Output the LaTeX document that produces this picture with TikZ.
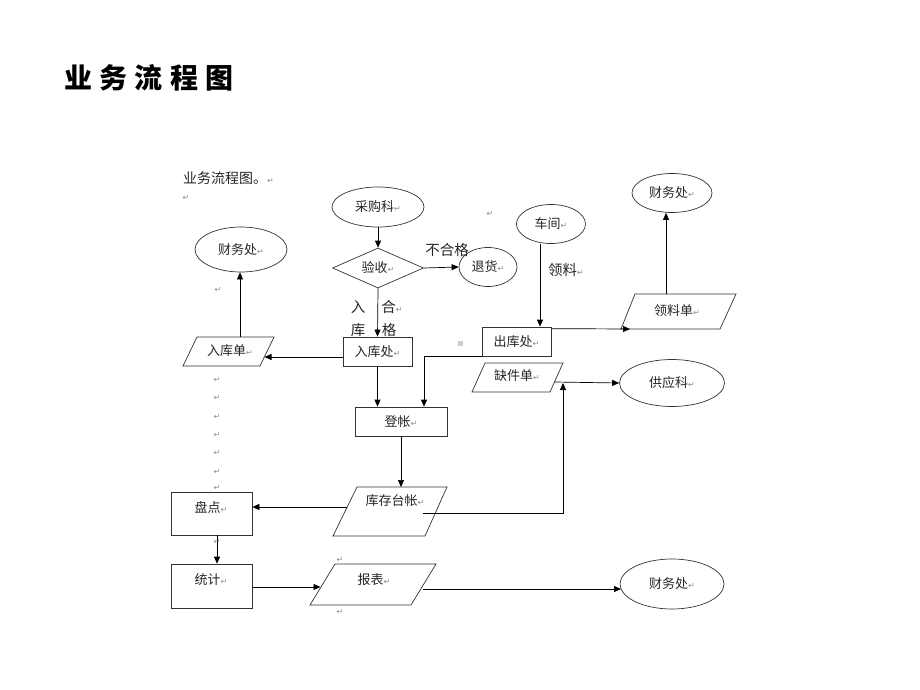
\documentclass[tikz,border=0pt]{standalone}
\usepackage{fontspec}
\setmainfont{Noto Sans CJK SC}
\newfontfamily\dejavu{DejaVu Sans}
\newfontfamily\titlecjk[LetterSpace=26]{Noto Sans CJK SC}
\usetikzlibrary{shapes.geometric,arrows.meta}
\newcommand{\retmark}{{\color{black!45}\dejavu\fontsize{8}{8}\selectfont ↵}}
\begin{document}
\begin{tikzpicture}[x=1pt,y=-1pt,
  base/.style={draw=black!80, line width=0.7pt, inner sep=0pt, text=black!85, font=\fontsize{13}{13}\selectfont},
  ell/.style={base, ellipse},
  rectbox/.style={base, rectangle},
  dia/.style={base, diamond, aspect=2.3},
  para/.style={draw=black!80, line width=0.7pt, line join=miter},
  ptext/.style={inner sep=0pt, text=black!85, font=\fontsize{13}{13}\selectfont},
  lbl/.style={inner sep=0pt, text=black!85, font=\fontsize{14.5}{14.5}\selectfont},
  rm/.style={inner sep=0pt, text=black!45, font=\dejavu\fontsize{8}{8}\selectfont},
  arr/.style={-{Triangle[length=7pt,width=6pt]}, line width=0.7pt, black},
  ln/.style={line width=0.7pt, black}
]
\useasboundingbox (0,0) rectangle (920,690);
\fill[white] (0,0) rectangle (920,690);

% titles
\node[anchor=west, inner sep=0pt, font=\titlecjk\bfseries\fontsize{28}{28}\selectfont] (title) at (64,78) {业务流程图};
\node[anchor=west, inner sep=0pt, text=black!85, font=\fontsize{14}{14}\selectfont] (sub) at (183,178) {业务流程图。\retmark};
\node[rm] (r0) at (186,198) {↵};

% nodes
\node[ell, minimum width=92, minimum height=40] (cgk) at (378,207) {采购科\retmark};
\node[dia, minimum width=91, minimum height=40] (ys) at (378,268) {验收\retmark};
\node[ell, minimum width=58, minimum height=39] (th) at (488,267) {退货\retmark};
\node[ell, minimum width=69, minimum height=39] (cj) at (551,224) {车间\retmark};
\node[rectbox, minimum width=69, minimum height=29] (ckc) at (516.5,341.5) {出库处\retmark};
\node[ell, minimum width=80, minimum height=39] (cwa) at (672,193) {财务处\retmark};
\node[ell, minimum width=105, minimum height=47] (gyk) at (672,383) {供应科\retmark};
\node[rectbox, minimum width=69, minimum height=29] (rkc) at (377.5,351.5) {入库处\retmark};
\node[ell, minimum width=92, minimum height=45] (cwb) at (241,249.5) {财务处\retmark};
\node[rectbox, minimum width=92, minimum height=29] (dz) at (401,421.5) {登帐\retmark};
\node[rectbox, minimum width=81, minimum height=43] (pd) at (211.5,513.5) {};
\node[ptext] (pdt) at (211,507) {盘点\retmark};
\node[rectbox, minimum width=81, minimum height=44] (tj) at (211.5,586) {};
\node[ptext] (tjt) at (211,580) {统计\retmark};
\node[ell, minimum width=104, minimum height=50] (cwc) at (672,584) {财务处\retmark};

% parallelograms
\draw[para] (635,294) -- (736,294) -- (720,329) -- (621,329) -- cycle;
\node[ptext] (lld) at (677,311) {领料单\retmark};
\draw[para] (485,363) -- (563,363) -- (550,392) -- (472,392) -- cycle;
\node[ptext] (qjd) at (517,376) {缺件单\retmark};
\draw[para] (197,337) -- (274,337) -- (260,366) -- (183,366) -- cycle;
\node[ptext] (rkd) at (230,351) {入库单\retmark};
\draw[para] (357,487) -- (447,487) -- (425,536) -- (333,536) -- cycle;
\node[ptext] (kctz) at (395,501) {库存台帐\retmark};
\draw[para] (335,564) -- (436,564) -- (411,605) -- (310,605) -- cycle;
\node[ptext] (bb) at (374,580) {报表\retmark};

% connector end points on parallelograms
\coordinate (lldin) at (630,329);
\coordinate (lldtop) at (666,294);
\coordinate (qjdr) at (554.5,382);
\coordinate (rkdr) at (264.5,357);
\coordinate (rkdtop) at (240,337);
\coordinate (kctztop) at (401,487);
\coordinate (kctzl) at (347,507);
\coordinate (kctzin) at (423,513);
\coordinate (bbl) at (320.5,587);
\coordinate (bbin) at (423,589);
\coordinate (junc) at (563,383);

% connectors
\draw[arr] (cgk.south) -- (ys.north);
\draw[arr] (ys.east) -- (th.west);
\node[lbl] (bhg) at (447,250) {不合格};
\draw[arr] ([xshift=-11pt]cj.south) -- ([xshift=-11pt]cj.south |- ckc.north);
\node[lbl] (ll) at (566,270) {领料\retmark};
\draw[arr] ([yshift=-2pt]ckc.north east) -- (lldin);
\draw[arr] (lldtop) -- (lldtop |- cwa.south);
\draw[arr] (qjdr) -- (gyk.west);
\draw[arr] (ys.south) -- (rkc.north);
\node[lbl] (l1) at (358,307) {入};
\node[lbl] (l2) at (358,330) {库};
\node[lbl] (l3) at (392,307) {合\retmark};
\node[lbl] (l4) at (389,330) {格};
\draw[arr] ([yshift=-5.5pt]rkc.west) -- (rkdr);
\draw[arr] (rkdtop) -- (rkdtop |- cwb.south);
\draw[arr] (rkc.south) -- (rkc.south |- dz.north);
\draw[arr] (ckc.south west) -| ([xshift=23pt]dz.north);
\draw[arr] (dz.south) -- (kctztop);
\draw[arr] (kctzl) -- (kctzl -| pd.east);
\draw[arr] ([xshift=5.5pt]pd.south) -- ([xshift=5.5pt]tj.north);
\draw[arr] (bbl -| tj.east) -- (bbl);
\draw[arr] (bbin) -- (621,589);
\draw[arr] (kctzin) -| (junc);

% paragraph marks and small marks
\node[rm] at (490,214) {↵};
\node[rm] at (218,290) {↵};
\foreach \yy in {380,398,417,435,453,472,488} \node[rm] at (217,\yy) {↵};
\node[rm] at (217,542) {↵};
\node[rm] at (340,560) {↵};
\node[rm] at (340,612) {↵};
\fill[black!20] (457.5,340.5) rectangle (462.5,345.5);
\end{tikzpicture}
\end{document}
